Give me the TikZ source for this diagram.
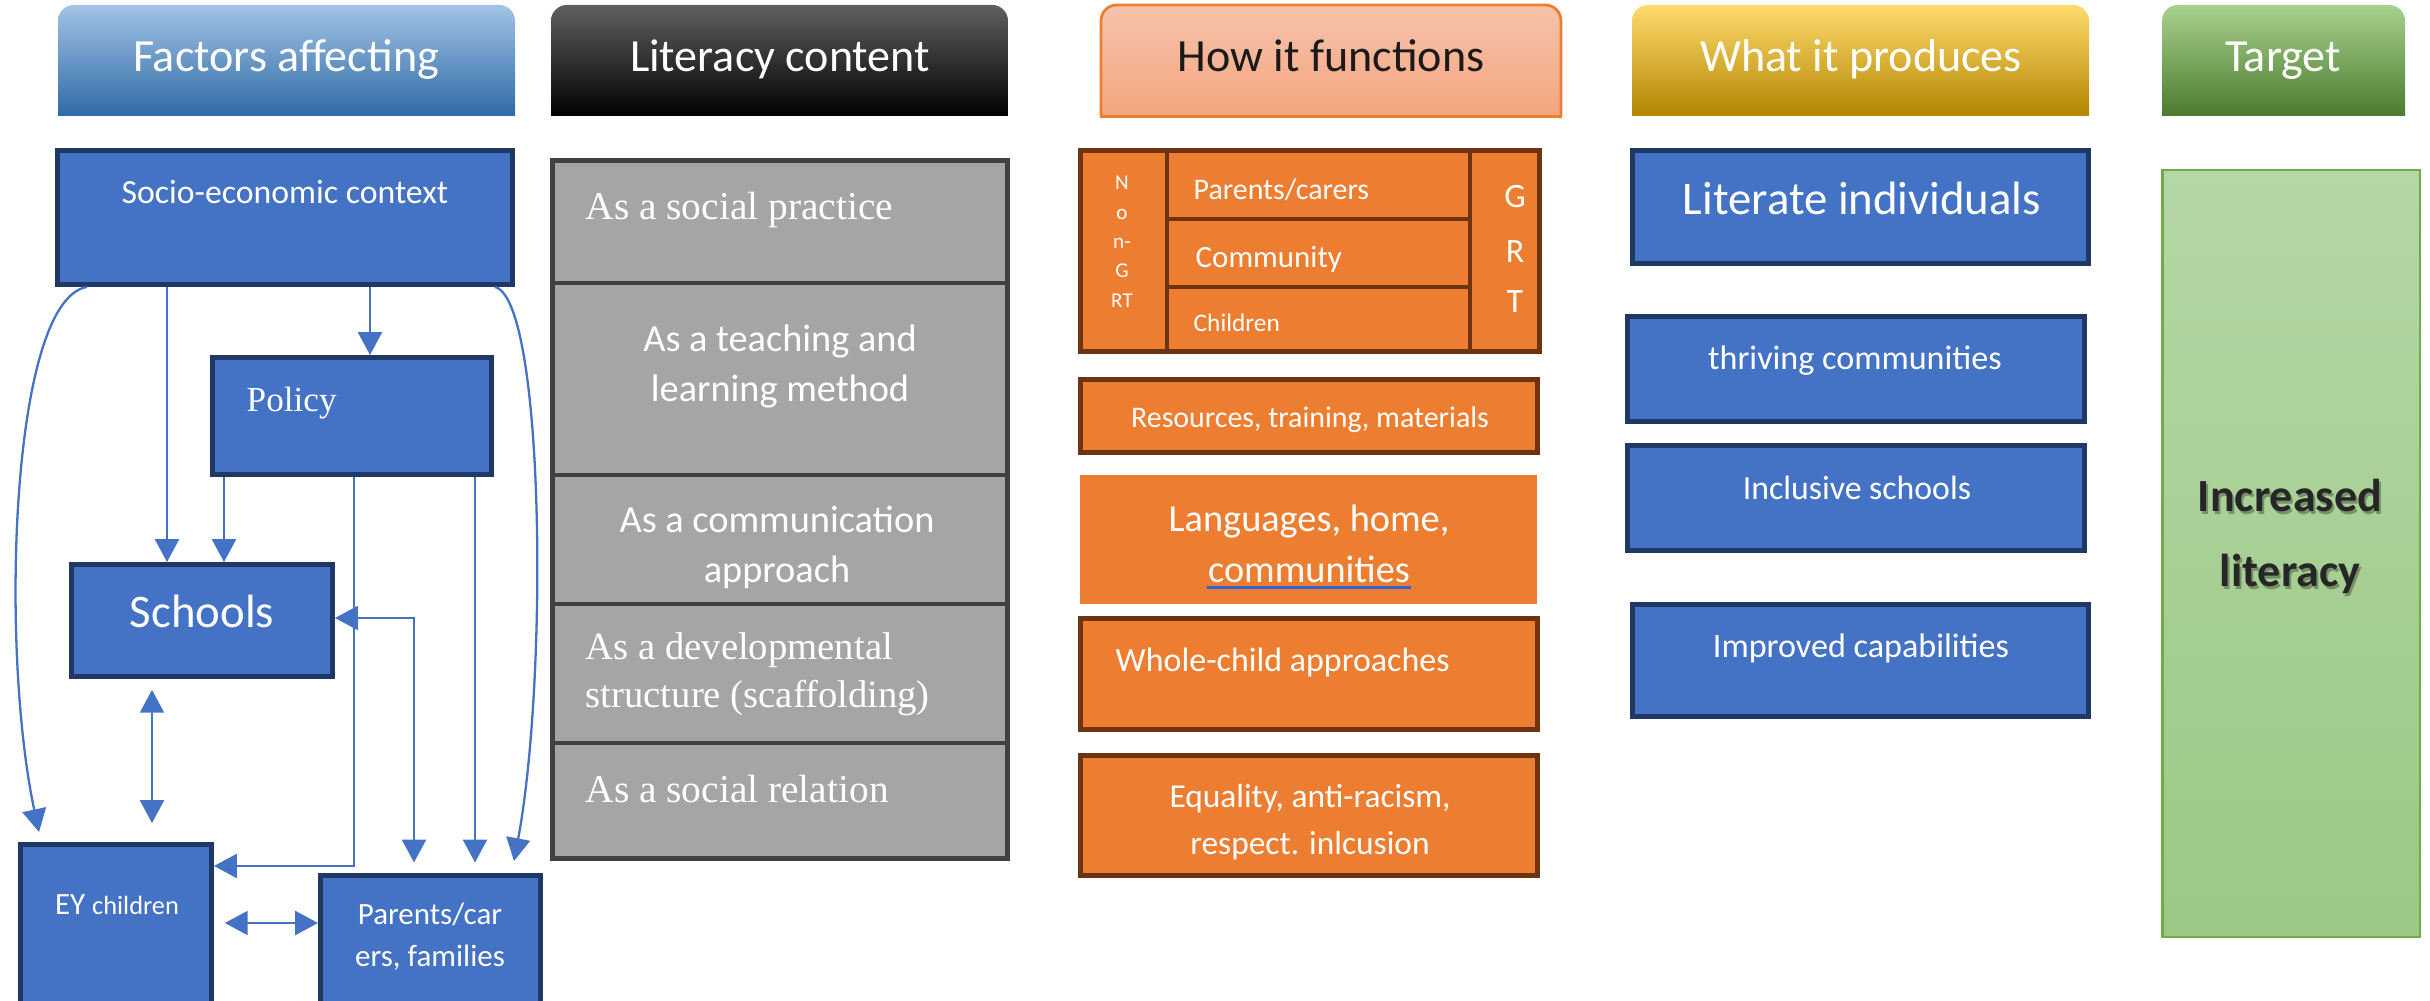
\documentclass[tikz,border=0pt]{standalone}
\usepackage{fontspec}
\setmainfont{Carlito}
\newfontfamily\serifface{Liberation Serif}
\usetikzlibrary{arrows.meta,calc}

\definecolor{bfill}{HTML}{4472C4}
\definecolor{bedge}{HTML}{1F3864}
\definecolor{gfill}{HTML}{A5A5A5}
\definecolor{gedge}{HTML}{404040}
\definecolor{ofill}{HTML}{ED7D31}
\definecolor{oedge}{HTML}{6E340F}
\definecolor{lineblue}{HTML}{4472C4}
\definecolor{factop}{HTML}{A3C4E6}
\definecolor{facmid}{HTML}{5B9BD5}
\definecolor{facbot}{HTML}{2E6AA6}
\definecolor{littop}{HTML}{606060}
\definecolor{litmid}{HTML}{0D0D0D}
\definecolor{litbot}{HTML}{000000}
\definecolor{howtop}{HTML}{F6C4AC}
\definecolor{howmid}{HTML}{F5B090}
\definecolor{howbot}{HTML}{F4A47E}
\definecolor{howedge}{HTML}{ED7D31}
\definecolor{howtext}{HTML}{1A1A1A}
\definecolor{whattop}{HTML}{FFDB6E}
\definecolor{whatmid}{HTML}{FFC000}
\definecolor{whatbot}{HTML}{B38600}
\definecolor{tartop}{HTML}{A9D18E}
\definecolor{tarmid}{HTML}{70AD47}
\definecolor{tarbot}{HTML}{4B7B2F}
\definecolor{tgtop}{HTML}{B5D6A5}
\definecolor{tgbot}{HTML}{9BC985}
\definecolor{tgedge}{HTML}{70AD47}
\definecolor{ulblue}{HTML}{2E62D8}
\definecolor{incol}{HTML}{262626}

\newcommand{\fsz}[1]{\fontsize{#1pt}{#1pt}\selectfont}
% style, name, x1, y1, x2, y2 (outer edges, in px)
\newcommand{\boxat}[6]{\node[#1, minimum width={(#5-#3-5)*0.01cm}, minimum height={(#6-#4-5)*0.01cm}] (#2) at ({(#3+#5)/2},{(#4+#6)/2}) {};}
% name, x1, x2, top, mid, bottom colours
\newcommand{\mkheader}[6]{%
  \begin{scope}
    \clip[rounded corners=4.5pt] (#2,5) rectangle (#3,170);
    \shade[top color=#4, middle color=#5, bottom color=#6] (#2,5) rectangle (#3,116);
  \end{scope}
  \node[minimum width={(#3-#2)*0.01cm}, minimum height=1.11cm, inner sep=0] (#1) at ({(#2+#3)/2},60.5) {};
}

\begin{document}
\begin{tikzpicture}[x=0.01cm, y=-0.01cm,
  bluebox/.style={draw=bedge, fill=bfill, line width=1.4pt, inner sep=0},
  graybox/.style={draw=gedge, fill=gfill, line width=1.4pt, inner sep=0},
  orbox/.style={draw=oedge, fill=ofill, line width=1.4pt, inner sep=0},
  orplain/.style={fill=ofill, inner sep=0},
  txt/.style={inner sep=0, text=white},
  conn/.style={draw=lineblue, line width=0.65pt},
  arr/.style={conn, -{Triangle[length=6.5pt,width=6.8pt]}},
  darr/.style={conn, {Triangle[length=6.5pt,width=6.8pt]}-{Triangle[length=6.5pt,width=6.8pt]}},
]
\clip (0,0) rectangle (2430,1001);
\fill[white] (0,0) rectangle (2430,1001);

% ---------- headers ----------
\mkheader{hfac}{58}{515}{factop}{facmid}{facbot}
\node[txt, anchor=base, font=\fsz{13.1}] (hfact) at (286,72) {Factors affecting};
\mkheader{hlit}{551}{1008}{littop}{litmid}{litbot}
\node[txt, anchor=base, font=\fsz{13.1}] (hlitt) at (780,72) {Literacy content};
\mkheader{hhow}{1101}{1561}{howtop}{howmid}{howbot}
\begin{scope}
  \clip (1090,0) rectangle (1572,116);
  \draw[howedge, line width=0.8pt, rounded corners=4.5pt] (1101,5) rectangle (1561,170);
\end{scope}
\draw[howedge, line width=0.8pt] (hhow.south west) -- (hhow.south east);
\node[inner sep=0, anchor=base, text=howtext, font=\fsz{13.1}] (hhowt) at (1331,72) {How it functions};
\mkheader{hwhat}{1632}{2089}{whattop}{whatmid}{whatbot}
\node[txt, anchor=base, font=\fsz{13.1}] (hwhatt) at (1861,72) {What it produces};
\mkheader{htar}{2162}{2405}{tartop}{tarmid}{tarbot}
\node[txt, anchor=base, font=\fsz{13.1}] (htart) at (2283,72) {Target};

% ---------- column 1 ----------
\boxat{bluebox}{socio}{55}{148}{515}{287}
\node[txt, anchor=base, font=\fsz{9.6}] (sociot) at (285,204) {Socio-economic context};
\boxat{bluebox}{policy}{210}{355}{494}{477}
\node[txt, anchor=base west, font=\serifface\fsz{10}] (policyt) at (246,412) {Policy};
\boxat{bluebox}{schools}{69}{562}{335}{679}
\node[txt, anchor=base, font=\fsz{13.3}] (schoolst) at (202,628) {Schools};
\boxat{bluebox}{ey}{18}{842}{214}{1020}
\node[txt, anchor=base, font=\fsz{8.8}] (eyt) at (117,915) {EY {\fsz{7.5}children}};
\boxat{bluebox}{parents}{318}{873}{543}{1020}
\node[txt, anchor=base, font=\fsz{8.8}] (part1) at (430,925) {Parents/car};
\node[txt, anchor=base, font=\fsz{8.8}] (part2) at (430,967) {ers, families};

\coordinate (c370) at (370,0);
\coordinate (c167) at (167,0);
\coordinate (c224) at (224,0);
\coordinate (c354) at (354,0);
\coordinate (c475) at (475,0);
\coordinate (c414) at (414,0);
\coordinate (c152) at (152,0);
\coordinate (c87) at (87,0);
\coordinate (c495) at (495,0);
\coordinate (r866) at (0,866);
\coordinate (r618) at (0,618);
\coordinate (r923) at (0,923);
\coordinate (lcend) at (39,832);
\coordinate (rcend) at (514,861);

\draw[arr] (socio.south -| c370) -- (policy.north -| c370);
\draw[arr] (socio.south -| c167) -- (schools.north -| c167);
\draw[arr] (policy.south -| c224) -- (schools.north -| c224);
\draw[arr] (policy.south -| c354) |- (ey.east |- r866);
\draw[arr, shorten >=3pt] (policy.south -| c475) -- (parents.north -| c475);
\draw[darr, shorten >=3pt] (schools.east |- r618) -| (parents.north -| c414);
\draw[darr, shorten <=3.1pt, shorten >=5.4pt] (schools.south -| c152) -- (ey.north -| c152);
\draw[darr, shorten <=3.1pt] (ey.east |- r923) -- (parents.west |- r923);
\draw[arr] (socio.south -| c87) .. controls (10,300) and (0,650) .. (lcend);
\draw[arr] (socio.south -| c495) .. controls (545,300) and (548,680) .. (rcend);

% ---------- column 2 ----------
\boxat{graybox}{g1}{550}{158}{1010}{285.5}
\boxat{graybox}{g2}{550}{280.5}{1010}{477.5}
\boxat{graybox}{g3}{550}{472.5}{1010}{606.5}
\boxat{graybox}{g4}{550}{601.5}{1010}{745.5}
\boxat{graybox}{g5}{550}{740.5}{1010}{861}
\node[txt, anchor=base west, font=\serifface\fsz{11.2}] (g1t) at (585,220) {As a social practice};
\node[txt, anchor=base, font=\fsz{10.9}] (g2a) at (780,352) {As a teaching and};
\node[txt, anchor=base, font=\fsz{10.9}] (g2b) at (780,402) {learning method};
\node[txt, anchor=base, font=\fsz{10.9}] (g3a) at (777,533) {As a communication};
\node[txt, anchor=base, font=\fsz{10.9}] (g3b) at (777,583) {approach};
\node[txt, anchor=base west, font=\serifface\fsz{11}] (g4a) at (585,660) {As a developmental};
\node[txt, anchor=base west, font=\serifface\fsz{11}] (g4b) at (585,708) {structure (scaffolding)};
\node[txt, anchor=base west, font=\serifface\fsz{11.2}] (g5t) at (585,803) {As a social relation};

% ---------- column 3 ----------
\boxat{orbox}{ngrt}{1078}{148}{1169.5}{354}
\boxat{orbox}{grt}{1467.5}{148}{1542}{354}
\boxat{orbox}{opar}{1164.5}{148}{1472.5}{221.5}
\boxat{orbox}{ocom}{1164.5}{216.5}{1472.5}{289.5}
\boxat{orbox}{ochi}{1164.5}{284.5}{1472.5}{354}
\foreach \t/\yy [count=\i] in {N/190, o/220, n-/249, G/278, RT/308}
  \node[txt, anchor=base, font=\fsz{6}] (ng\i) at (1122,\yy) {\t};
\foreach \t/\yy [count=\i] in {G/208, R/263, T/313}
  \node[txt, anchor=base, font=\fsz{9.7}] (gr\i) at (1515,\yy) {\t};
\node[txt, anchor=base west, font=\fsz{8.5}] (opart) at (1193,200) {Parents/carers};
\node[txt, anchor=base west, font=\fsz{8.8}] (ocomt) at (1195,268) {Community};
\node[txt, anchor=base west, font=\fsz{7.2}] (ochit) at (1193,332) {Children};

\boxat{orbox}{res}{1078}{377}{1540}{455}
\node[txt, anchor=base, font=\fsz{8.5}] (rest) at (1310,428) {Resources, training, materials};
\node[orplain, minimum width=4.57cm, minimum height=1.29cm] (lang) at (1308.5,539.5) {};
\node[txt, anchor=base, font=\fsz{10.9}] (lang1) at (1309,532) {Languages, home,};
\node[txt, anchor=base, font=\fsz{10.9}] (lang2) at (1309,583) {communities};
\draw[ulblue, line width=0.8pt] ([yshift=-1.3pt]lang2.base west) -- ([yshift=-1.3pt]lang2.base east);
\boxat{orbox}{whole}{1078}{616}{1540}{732}
\node[txt, anchor=base west, font=\fsz{9.65}] (wholet) at (1115,672) {Whole-child approaches};
\boxat{orbox}{equal}{1078}{753}{1540}{878}
\node[txt, anchor=base, font=\fsz{9.5}] (eq1) at (1310,808) {Equality, anti-racism,};
\node[txt, anchor=base, font=\fsz{9.5}] (eq2) at (1310,855) {respect. inlcusion};

% ---------- column 4 ----------
\boxat{bluebox}{lit}{1630}{148}{2091}{266}
\node[txt, anchor=base, font=\fsz{13.3}] (litt) at (1862,215) {Literate individuals};
\boxat{bluebox}{thrive}{1625}{314}{2087}{424}
\node[txt, anchor=base, font=\fsz{9.7}] (thrivet) at (1855,370) {thriving communities};
\boxat{bluebox}{incl}{1625}{443}{2087}{553}
\node[txt, anchor=base, font=\fsz{9.6}] (inclt) at (1857,500) {Inclusive schools};
\boxat{bluebox}{impr}{1630}{602}{2091}{719}
\node[txt, anchor=base, font=\fsz{9.7}] (imprt) at (1861,658) {Improved capabilities};

% ---------- column 5 ----------
\node[draw=tgedge, line width=0.6pt, top color=tgtop, bottom color=tgbot, inner sep=0,
      minimum width=2.57cm, minimum height=7.66cm] (target) at (2291,553.5) {};
\node[inner sep=0, anchor=base, text=black, opacity=0.3, font=\bfseries\fsz{13.1}] (inc1s) at (2292,515) {Increased};
\node[inner sep=0, anchor=base, text=black, opacity=0.3, font=\bfseries\fsz{13.1}] (inc2s) at (2292,590) {literacy};
\node[inner sep=0, anchor=base, text=incol, font=\bfseries\fsz{13.1}] (inc1) at (2290,512) {Increased};
\node[inner sep=0, anchor=base, text=incol, font=\bfseries\fsz{13.1}] (inc2) at (2290,587) {literacy};
\end{tikzpicture}
\end{document}
